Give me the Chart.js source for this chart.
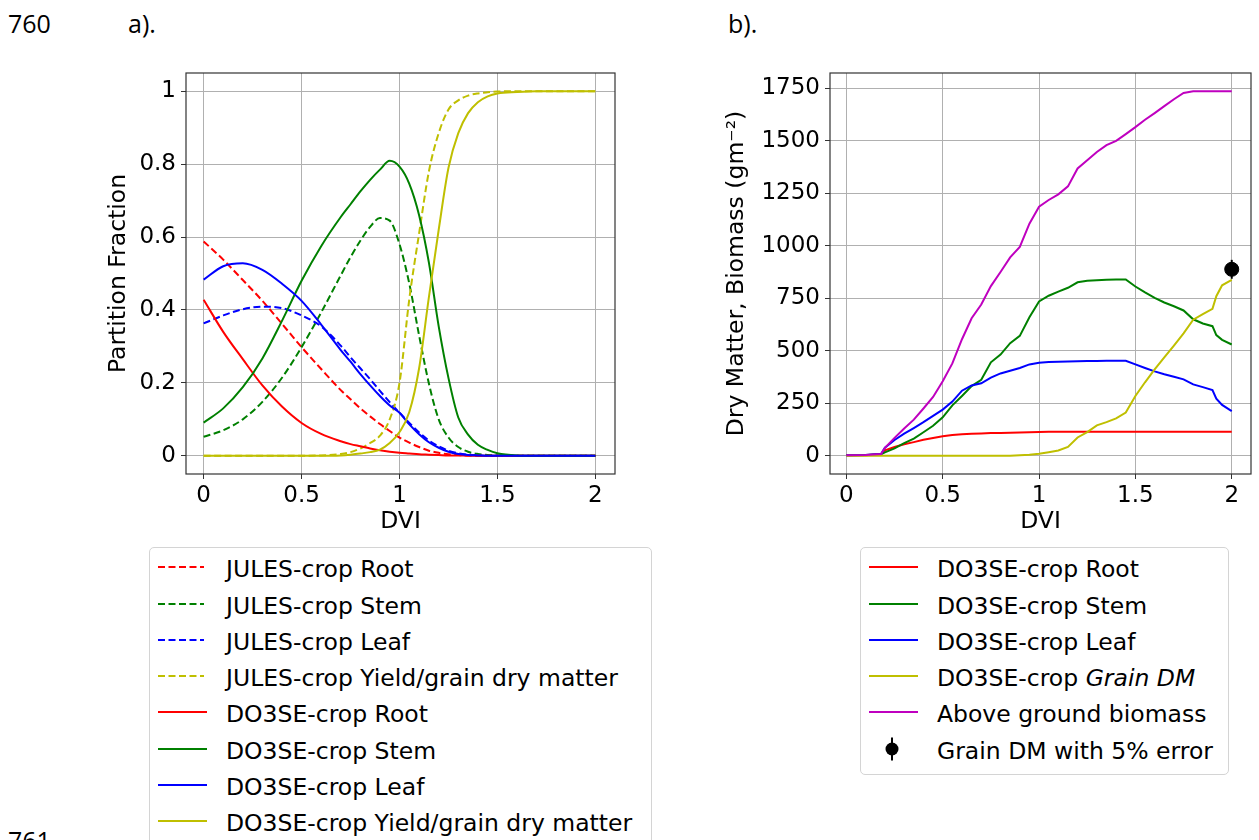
<!DOCTYPE html>
<html>
<head>
<meta charset="utf-8">
<script src="https://cdn.jsdelivr.net/npm/chart.js@4.4.0/dist/chart.umd.min.js"></script>
<style>
  body { margin: 0; width: 1259px; height: 840px; overflow: hidden; background: #fff; position: relative; font-family: 'DejaVu Sans', sans-serif; }
  .note { position: absolute; font-family: 'Open Sans', sans-serif; font-size: 25px; line-height: 25px; color: #000; }
  canvas { position: absolute; }
  .legend { position: absolute; border: 1px solid #d4d4d4; border-radius: 5px; background: #fff; overflow: hidden; }
  .row { position: absolute; left: 0; height: 36px; line-height: 36px; font-size: 23.5px; white-space: nowrap; color: #000; }
  .row svg { position: absolute; left: 0; top: 0; }
  .row span { position: absolute; left: 76px; top: 0; }
</style>
</head>
<body>
<div class="note" style="left:8px;top:11px">760</div>
<div class="note" style="left:128px;top:11px">a).</div>
<div class="note" style="left:728px;top:11px">b).</div>
<div class="note" style="left:8px;top:828px">761</div>

<canvas id="chartA" width="530" height="500" style="left:100px;top:40px"></canvas>
<canvas id="chartB" width="541" height="500" style="left:718px;top:40px"></canvas>

<div class="legend" id="legendA" style="left:149px;top:547px;width:501px;height:310px"></div>
<div class="legend" id="legendB" style="left:860px;top:547px;width:367px;height:226px"></div>

<script>
// a) partition fractions against DVI
const dviA = [0, 0.1, 0.2, 0.3, 0.4, 0.5, 0.6, 0.7, 0.75, 0.8, 0.85, 0.9, 0.95, 1.0, 1.05, 1.1, 1.15, 1.2, 1.25, 1.3, 1.35, 1.4, 1.45, 1.5, 1.6, 1.7, 1.8, 1.9, 2.0];
const julesRoot  = [0.588, 0.538, 0.482, 0.425, 0.362, 0.298, 0.238, 0.18, 0.155, 0.13, 0.108, 0.087, 0.068, 0.05, 0.036, 0.024, 0.014, 0.008, 0.004, 0.002, 0.001, 0, 0, 0, 0, 0, 0, 0, 0];
const julesStem  = [0.052, 0.07, 0.1, 0.148, 0.214, 0.298, 0.393, 0.495, 0.545, 0.59, 0.628, 0.652, 0.645, 0.58, 0.472, 0.33, 0.198, 0.1, 0.05, 0.024, 0.011, 0.005, 0.002, 0.001, 0, 0, 0, 0, 0];
const julesLeaf  = [0.363, 0.385, 0.402, 0.409, 0.405, 0.385, 0.355, 0.302, 0.27, 0.24, 0.21, 0.178, 0.147, 0.118, 0.09, 0.064, 0.042, 0.026, 0.014, 0.007, 0.003, 0.001, 0, 0, 0, 0, 0, 0, 0];
const julesYield = [0, 0, 0, 0, 0, 0, 0.001, 0.005, 0.01, 0.02, 0.035, 0.055, 0.1, 0.2, 0.43, 0.61, 0.78, 0.885, 0.95, 0.975, 0.988, 0.994, 0.997, 0.999, 1, 1, 1, 1, 1];
const do3seRoot  = [0.428, 0.34, 0.265, 0.193, 0.135, 0.09, 0.06, 0.04, 0.032, 0.026, 0.02, 0.015, 0.011, 0.008, 0.006, 0.004, 0.003, 0.002, 0.001, 0.001, 0, 0, 0, 0, 0, 0, 0, 0, 0];
const do3seStem  = [0.091, 0.13, 0.188, 0.267, 0.37, 0.48, 0.575, 0.655, 0.69, 0.725, 0.757, 0.785, 0.809, 0.793, 0.746, 0.66, 0.53, 0.355, 0.213, 0.105, 0.058, 0.03, 0.016, 0.007, 0.001, 0, 0, 0, 0];
const do3seLeaf  = [0.483, 0.52, 0.528, 0.51, 0.472, 0.425, 0.36, 0.29, 0.258, 0.224, 0.193, 0.164, 0.138, 0.118, 0.086, 0.059, 0.037, 0.022, 0.011, 0.005, 0.002, 0.001, 0, 0, 0, 0, 0, 0, 0];
const do3seYield = [0, 0, 0, 0, 0, 0, 0, 0.001, 0.003, 0.006, 0.01, 0.017, 0.035, 0.065, 0.12, 0.24, 0.435, 0.62, 0.79, 0.885, 0.94, 0.97, 0.986, 0.994, 0.998, 1, 1, 1, 1];

// b) dry matter (g m-2) against DVI
const dviB = [0, 0.1, 0.18, 0.2, 0.25, 0.3, 0.35, 0.4, 0.45, 0.5, 0.55, 0.6, 0.65, 0.7, 0.75, 0.8, 0.85, 0.9, 0.95, 1.0, 1.05, 1.1, 1.15, 1.2, 1.25, 1.3, 1.35, 1.4, 1.45, 1.5, 1.55, 1.6, 1.65, 1.7, 1.75, 1.8, 1.85, 1.9, 1.92, 1.95, 2.0];
const dmRoot    = [2, 3, 8, 26, 42, 55, 65, 76, 85, 93, 99, 103, 105, 106, 108, 109, 110, 111, 112, 113, 114, 114, 114, 114, 114, 114, 114, 114, 114, 114, 114, 114, 114, 114, 114, 114, 114, 114, 114, 114, 114];
const dmStem    = [3, 4, 7, 16, 35, 60, 82, 112, 143, 183, 240, 285, 332, 362, 445, 482, 536, 571, 660, 735, 762, 782, 800, 826, 833, 836, 838, 840, 840, 806, 778, 752, 730, 712, 692, 650, 630, 617, 575, 552, 530];
const dmLeaf    = [3, 4, 8, 38, 75, 105, 132, 160, 190, 220, 258, 310, 335, 345, 372, 392, 405, 418, 435, 443, 446, 448, 449, 450, 451, 451, 452, 452, 452, 435, 418, 402, 388, 376, 364, 340, 327, 313, 272, 242, 213];
const dmGrain   = [0, 0, 0, 0, 0, 0, 0, 0, 0, 0, 0, 0, 0, 0, 0, 0, 0, 2, 5, 10, 17, 25, 42, 87, 113, 145, 160, 178, 206, 285, 350, 411, 468, 525, 583, 648, 675, 700, 760, 812, 838];
const dmBiomass = [3, 4, 8, 38, 85, 130, 172, 225, 280, 355, 440, 555, 655, 720, 808, 875, 945, 995, 1105, 1186, 1218, 1245, 1283, 1368, 1407, 1447, 1479, 1500, 1532, 1565, 1600, 1632, 1665, 1698, 1728, 1736, 1736, 1736, 1736, 1736, 1736];
const grainObsDvi = [2];
const grainObs = [888];
const grainErr = [45];

const tickFont = { family: 'DejaVu Sans', size: 23 };
const titleFont = { family: 'DejaVu Sans', size: 23.5 };
const DASH = [7, 3.5];

const seriesA = [
    { label: 'JULES-crop Root', data: julesRoot, color: '#ff0000', dash: true },
    { label: 'JULES-crop Stem', data: julesStem, color: '#008000', dash: true },
    { label: 'JULES-crop Leaf', data: julesLeaf, color: '#0000ff', dash: true },
    { label: 'JULES-crop Yield/grain dry matter', data: julesYield, color: '#bfbf00', dash: true },
    { label: 'DO3SE-crop Root', data: do3seRoot, color: '#ff0000', dash: false },
    { label: 'DO3SE-crop Stem', data: do3seStem, color: '#008000', dash: false },
    { label: 'DO3SE-crop Leaf', data: do3seLeaf, color: '#0000ff', dash: false },
    { label: 'DO3SE-crop Yield/grain dry matter', data: do3seYield, color: '#bfbf00', dash: false }
];

const seriesB = [
    { label: 'DO3SE-crop Root', data: dmRoot, color: '#ff0000' },
    { label: 'DO3SE-crop Stem', data: dmStem, color: '#008000' },
    { label: 'DO3SE-crop Leaf', data: dmLeaf, color: '#0000ff' },
    { label: 'DO3SE-crop <i>Grain DM</i>', data: dmGrain, color: '#bfbf00' },
    { label: 'Above ground biomass', data: dmBiomass, color: '#bf00bf' }
];

// matplotlib style box around the plot area
const framePlugin = {
    id: 'frame',
    afterDatasetsDraw(chart) {
        const { ctx, chartArea: a } = chart;
        ctx.save();
        ctx.strokeStyle = '#333';
        ctx.lineWidth = 1.2;
        ctx.strokeRect(a.left, a.top, a.right - a.left, a.bottom - a.top);
        ctx.restore();
    }
};

function xAxis(min, max) {
    return {
        type: 'linear', min: min, max: max,
        ticks: { stepSize: 0.5, includeBounds: false, color: '#000', font: tickFont, padding: 3, maxRotation: 0, callback: v => String(v) },
        grid: { color: '#b0b0b0', lineWidth: 1, tickColor: '#333', tickLength: 5 },
        border: { display: false },
        title: { display: true, text: 'DVI', color: '#000', font: titleFont, padding: { top: 0, bottom: 4 } },
        afterFit: s => { s.height = 66; }
    };
}

function yAxis(min, max, step, title, width) {
    return {
        min: min, max: max,
        ticks: { stepSize: step, includeBounds: false, color: '#000', font: tickFont, padding: 5, callback: v => String(v) },
        grid: { color: '#b0b0b0', lineWidth: 1, tickColor: '#333', tickLength: 5 },
        border: { display: false },
        title: { display: true, text: title, color: '#000', font: titleFont, padding: { top: 5, bottom: 0 } },
        afterFit: s => { s.width = width; }
    };
}

function baseOptions(pad, scales) {
    return {
        responsive: false,
        animation: false,
        layout: { padding: pad },
        plugins: { legend: { display: false }, tooltip: { enabled: false } },
        elements: { point: { radius: 0 } },
        scales: scales
    };
}

new Chart(document.getElementById('chartA'), {
    type: 'line',
    data: {
        datasets: seriesA.map((s, i) => ({
            label: s.label,
            data: dviA.map((x, k) => ({ x: x, y: s.data[k] })),
            borderColor: s.color,
            borderWidth: 2,
            borderDash: s.dash ? DASH : [],
            cubicInterpolationMode: 'monotone',
            fill: false,
            pointRadius: 0,
            order: seriesA.length - i
        }))
    },
    options: baseOptions({ top: 33, left: 0, right: 15, bottom: 0 }, {
        x: xAxis(-0.09, 2.1),
        y: yAxis(-0.05, 1.05, 0.2, 'Partition Fraction', 86)
    }),
    plugins: [framePlugin]
});

const lineSetsB = seriesB.map((s, i) => ({
    label: s.label,
    data: dviB.map((x, k) => ({ x: x, y: s.data[k] })),
    borderColor: s.color,
    borderWidth: 2,
    tension: 0,
    fill: false,
    pointRadius: 0,
    order: 10 - i
}));

new Chart(document.getElementById('chartB'), {
    type: 'line',
    data: {
        datasets: lineSetsB.concat([
            {
                label: 'error',
                data: [{ x: grainObsDvi[0], y: grainObs[0] - grainErr[0] }, { x: grainObsDvi[0], y: grainObs[0] + grainErr[0] }],
                borderColor: '#000', borderWidth: 2, pointRadius: 0, order: 1
            },
            {
                label: 'Grain DM with 5% error',
                data: grainObsDvi.map((x, k) => ({ x: x, y: grainObs[k] })),
                showLine: false, pointRadius: 7, pointBackgroundColor: '#000', pointBorderColor: '#000', order: 0
            }
        ])
    },
    options: baseOptions({ top: 33, left: 0, right: 0, bottom: 0 }, {
        x: xAxis(-0.085, 2.1),
        y: yAxis(-86.8, 1822.8, 250, 'Dry Matter, Biomass (gm\u207B\u00B2)', 112)
    }),
    plugins: [framePlugin]
});

// legends laid out like the matplotlib boxes
function buildLegend(id, items) {
    const box = document.getElementById(id);
    items.forEach((it, i) => {
        const c = 19.3 + 36.25 * i;
        const row = document.createElement('div');
        row.className = 'row';
        row.style.top = (c - 16) + 'px';
        row.style.width = '100%';
        let mark;
        if (it.marker) {
            mark = '<line x1="31" y1="4.5" x2="31" y2="27.5" stroke="#000" stroke-width="2"/>' +
                   '<circle cx="31" cy="16" r="6.5" fill="#000"/>';
        } else {
            mark = '<line x1="8" y1="16" x2="' + (it.dash ? 54 : 57) + '" y2="16" stroke="' + it.color + '" stroke-width="2"' +
                   (it.dash ? ' stroke-dasharray="' + DASH.join(' ') + '"' : '') + '/>';
        }
        row.innerHTML = '<svg width="64" height="32">' + mark + '</svg><span>' + it.label + '</span>';
        box.appendChild(row);
    });
}

buildLegend('legendA', seriesA);
buildLegend('legendB', seriesB.concat([{ label: 'Grain DM with 5% error', marker: true }]));
</script>
</body>
</html>
